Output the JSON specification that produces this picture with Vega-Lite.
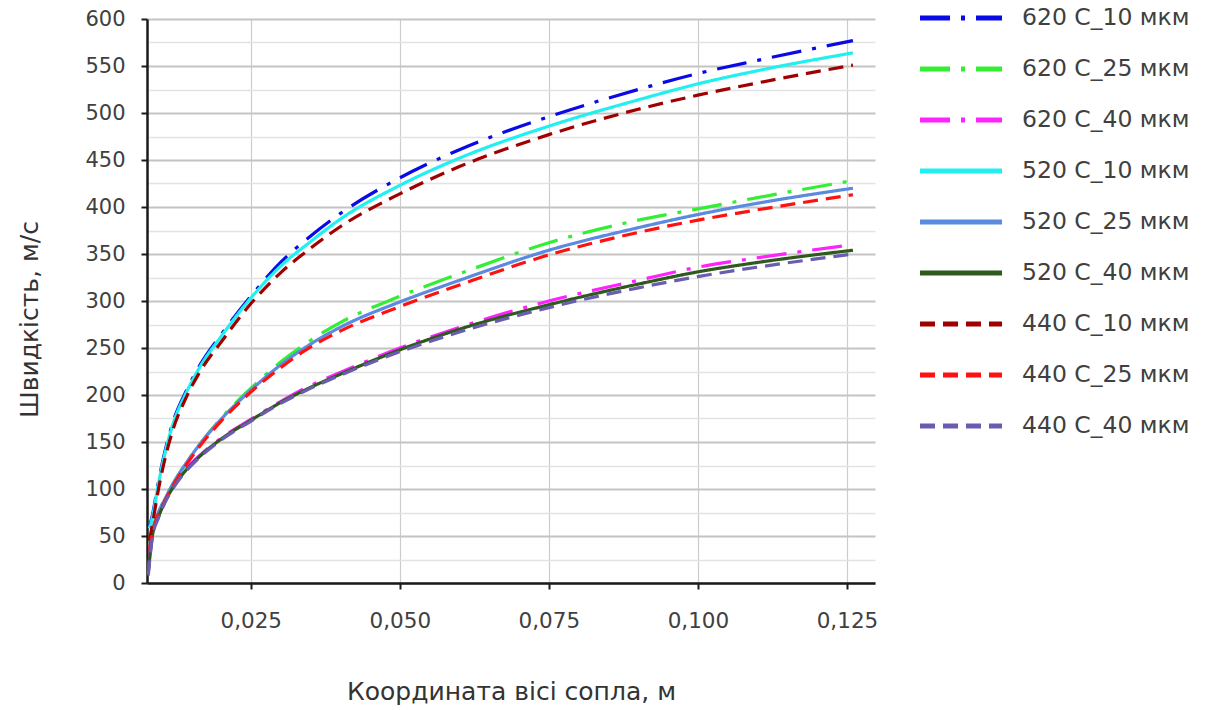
{
  "$schema": "https://vega.github.io/schema/vega-lite/v6.json",
  "width": 728,
  "height": 564,
  "autosize": {"type": "none"},
  "padding": {"left": 147, "top": 19, "right": 331, "bottom": 127},
  "background": "white",
  "config": {"view": {"stroke": null}, "font": "DejaVu Sans"},
  "datasets": {
    "d": [
      {"s":"620 C_10 мкм","x":0.008,"v":60},{"s":"620 C_10 мкм","x":0.0085,"v":72},{"s":"620 C_10 мкм","x":0.0095,"v":107},{"s":"620 C_10 мкм","x":0.0105,"v":137},{"s":"620 C_10 мкм","x":0.012,"v":172},{"s":"620 C_10 мкм","x":0.014,"v":202},{"s":"620 C_10 мкм","x":0.0165,"v":232},{"s":"620 C_10 мкм","x":0.02,"v":264},{"s":"620 C_10 мкм","x":0.025,"v":305},{"s":"620 C_10 мкм","x":0.03,"v":341},{"s":"620 C_10 мкм","x":0.035,"v":369},{"s":"620 C_10 мкм","x":0.04,"v":393},{"s":"620 C_10 мкм","x":0.05,"v":431},{"s":"620 C_10 мкм","x":0.06,"v":461},{"s":"620 C_10 мкм","x":0.075,"v":496},{"s":"620 C_10 мкм","x":0.09,"v":525},{"s":"620 C_10 мкм","x":0.1,"v":542},{"s":"620 C_10 мкм","x":0.11,"v":556},{"s":"620 C_10 мкм","x":0.126,"v":577},

      {"s":"620 C_25 мкм","x":0.008,"v":40},{"s":"620 C_25 мкм","x":0.0085,"v":56},{"s":"620 C_25 мкм","x":0.0095,"v":75},{"s":"620 C_25 мкм","x":0.0105,"v":88},{"s":"620 C_25 мкм","x":0.012,"v":106},{"s":"620 C_25 мкм","x":0.014,"v":126},{"s":"620 C_25 мкм","x":0.0165,"v":148},{"s":"620 C_25 мкм","x":0.02,"v":175},{"s":"620 C_25 мкм","x":0.025,"v":207},{"s":"620 C_25 мкм","x":0.03,"v":235},{"s":"620 C_25 мкм","x":0.035,"v":258},{"s":"620 C_25 мкм","x":0.04,"v":277},{"s":"620 C_25 мкм","x":0.05,"v":305},{"s":"620 C_25 мкм","x":0.06,"v":329},{"s":"620 C_25 мкм","x":0.075,"v":362},{"s":"620 C_25 мкм","x":0.09,"v":386},{"s":"620 C_25 мкм","x":0.1,"v":398},{"s":"620 C_25 мкм","x":0.11,"v":410},{"s":"620 C_25 мкм","x":0.125,"v":427},

      {"s":"620 C_40 мкм","x":0.0078,"v":12},{"s":"620 C_40 мкм","x":0.0085,"v":52},{"s":"620 C_40 мкм","x":0.0095,"v":71},{"s":"620 C_40 мкм","x":0.0105,"v":86},{"s":"620 C_40 мкм","x":0.012,"v":103},{"s":"620 C_40 мкм","x":0.014,"v":120},{"s":"620 C_40 мкм","x":0.0165,"v":136},{"s":"620 C_40 мкм","x":0.02,"v":154},{"s":"620 C_40 мкм","x":0.025,"v":174},{"s":"620 C_40 мкм","x":0.03,"v":193},{"s":"620 C_40 мкм","x":0.035,"v":210},{"s":"620 C_40 мкм","x":0.04,"v":224},{"s":"620 C_40 мкм","x":0.05,"v":250},{"s":"620 C_40 мкм","x":0.06,"v":272},{"s":"620 C_40 мкм","x":0.075,"v":300},{"s":"620 C_40 мкм","x":0.09,"v":322},{"s":"620 C_40 мкм","x":0.1,"v":336},{"s":"620 C_40 мкм","x":0.11,"v":346},{"s":"620 C_40 мкм","x":0.126,"v":360},

      {"s":"520 C_10 мкм","x":0.008,"v":58},{"s":"520 C_10 мкм","x":0.0085,"v":70},{"s":"520 C_10 мкм","x":0.0095,"v":105},{"s":"520 C_10 мкм","x":0.0105,"v":135},{"s":"520 C_10 мкм","x":0.012,"v":170},{"s":"520 C_10 мкм","x":0.014,"v":200},{"s":"520 C_10 мкм","x":0.0165,"v":230},{"s":"520 C_10 мкм","x":0.02,"v":262},{"s":"520 C_10 мкм","x":0.025,"v":303},{"s":"520 C_10 мкм","x":0.03,"v":337},{"s":"520 C_10 мкм","x":0.035,"v":363},{"s":"520 C_10 мкм","x":0.04,"v":387},{"s":"520 C_10 мкм","x":0.05,"v":423},{"s":"520 C_10 мкм","x":0.06,"v":452},{"s":"520 C_10 мкм","x":0.075,"v":486},{"s":"520 C_10 мкм","x":0.09,"v":514},{"s":"520 C_10 мкм","x":0.1,"v":531},{"s":"520 C_10 мкм","x":0.11,"v":545},{"s":"520 C_10 мкм","x":0.126,"v":564},

      {"s":"520 C_25 мкм","x":0.008,"v":38},{"s":"520 C_25 мкм","x":0.0085,"v":55},{"s":"520 C_25 мкм","x":0.0095,"v":75},{"s":"520 C_25 мкм","x":0.0105,"v":88},{"s":"520 C_25 мкм","x":0.012,"v":106},{"s":"520 C_25 мкм","x":0.014,"v":126},{"s":"520 C_25 мкм","x":0.0165,"v":148},{"s":"520 C_25 мкм","x":0.02,"v":174},{"s":"520 C_25 мкм","x":0.025,"v":205},{"s":"520 C_25 мкм","x":0.03,"v":232},{"s":"520 C_25 мкм","x":0.035,"v":254},{"s":"520 C_25 мкм","x":0.04,"v":272},{"s":"520 C_25 мкм","x":0.05,"v":299},{"s":"520 C_25 мкм","x":0.06,"v":322},{"s":"520 C_25 мкм","x":0.075,"v":354},{"s":"520 C_25 мкм","x":0.09,"v":378},{"s":"520 C_25 мкм","x":0.1,"v":392},{"s":"520 C_25 мкм","x":0.11,"v":404},{"s":"520 C_25 мкм","x":0.126,"v":420},

      {"s":"520 C_40 мкм","x":0.0078,"v":10},{"s":"520 C_40 мкм","x":0.0085,"v":50},{"s":"520 C_40 мкм","x":0.0095,"v":70},{"s":"520 C_40 мкм","x":0.0105,"v":85},{"s":"520 C_40 мкм","x":0.012,"v":102},{"s":"520 C_40 мкм","x":0.014,"v":119},{"s":"520 C_40 мкм","x":0.0165,"v":135},{"s":"520 C_40 мкм","x":0.02,"v":153},{"s":"520 C_40 мкм","x":0.025,"v":173},{"s":"520 C_40 мкм","x":0.03,"v":192},{"s":"520 C_40 мкм","x":0.035,"v":208},{"s":"520 C_40 мкм","x":0.04,"v":222},{"s":"520 C_40 мкм","x":0.05,"v":248},{"s":"520 C_40 мкм","x":0.06,"v":270},{"s":"520 C_40 мкм","x":0.075,"v":296},{"s":"520 C_40 мкм","x":0.09,"v":318},{"s":"520 C_40 мкм","x":0.1,"v":331},{"s":"520 C_40 мкм","x":0.11,"v":341},{"s":"520 C_40 мкм","x":0.126,"v":354},

      {"s":"440 C_10 мкм","x":0.008,"v":45},{"s":"440 C_10 мкм","x":0.0085,"v":62},{"s":"440 C_10 мкм","x":0.0095,"v":99},{"s":"440 C_10 мкм","x":0.0105,"v":129},{"s":"440 C_10 мкм","x":0.012,"v":164},{"s":"440 C_10 мкм","x":0.014,"v":195},{"s":"440 C_10 мкм","x":0.0165,"v":225},{"s":"440 C_10 мкм","x":0.02,"v":256},{"s":"440 C_10 мкм","x":0.025,"v":297},{"s":"440 C_10 мкм","x":0.03,"v":330},{"s":"440 C_10 мкм","x":0.035,"v":356},{"s":"440 C_10 мкм","x":0.04,"v":379},{"s":"440 C_10 мкм","x":0.05,"v":414},{"s":"440 C_10 мкм","x":0.06,"v":443},{"s":"440 C_10 мкм","x":0.075,"v":477},{"s":"440 C_10 мкм","x":0.09,"v":504},{"s":"440 C_10 мкм","x":0.1,"v":519},{"s":"440 C_10 мкм","x":0.11,"v":532},{"s":"440 C_10 мкм","x":0.126,"v":551},

      {"s":"440 C_25 мкм","x":0.008,"v":35},{"s":"440 C_25 мкм","x":0.0085,"v":53},{"s":"440 C_25 мкм","x":0.0095,"v":73},{"s":"440 C_25 мкм","x":0.0105,"v":86},{"s":"440 C_25 мкм","x":0.012,"v":104},{"s":"440 C_25 мкм","x":0.014,"v":124},{"s":"440 C_25 мкм","x":0.0165,"v":146},{"s":"440 C_25 мкм","x":0.02,"v":172},{"s":"440 C_25 мкм","x":0.025,"v":203},{"s":"440 C_25 мкм","x":0.03,"v":229},{"s":"440 C_25 мкм","x":0.035,"v":251},{"s":"440 C_25 мкм","x":0.04,"v":268},{"s":"440 C_25 мкм","x":0.05,"v":294},{"s":"440 C_25 мкм","x":0.06,"v":317},{"s":"440 C_25 мкм","x":0.075,"v":349},{"s":"440 C_25 мкм","x":0.09,"v":373},{"s":"440 C_25 мкм","x":0.1,"v":386},{"s":"440 C_25 мкм","x":0.11,"v":397},{"s":"440 C_25 мкм","x":0.126,"v":413},

      {"s":"440 C_40 мкм","x":0.0078,"v":8},{"s":"440 C_40 мкм","x":0.0085,"v":48},{"s":"440 C_40 мкм","x":0.0095,"v":69},{"s":"440 C_40 мкм","x":0.0105,"v":84},{"s":"440 C_40 мкм","x":0.012,"v":101},{"s":"440 C_40 мкм","x":0.014,"v":118},{"s":"440 C_40 мкм","x":0.0165,"v":134},{"s":"440 C_40 мкм","x":0.02,"v":152},{"s":"440 C_40 мкм","x":0.025,"v":172},{"s":"440 C_40 мкм","x":0.03,"v":191},{"s":"440 C_40 мкм","x":0.035,"v":207},{"s":"440 C_40 мкм","x":0.04,"v":221},{"s":"440 C_40 мкм","x":0.05,"v":246},{"s":"440 C_40 мкм","x":0.06,"v":267},{"s":"440 C_40 мкм","x":0.075,"v":293},{"s":"440 C_40 мкм","x":0.09,"v":314},{"s":"440 C_40 мкм","x":0.1,"v":326},{"s":"440 C_40 мкм","x":0.11,"v":336},{"s":"440 C_40 мкм","x":0.126,"v":350}
    ]
  },
  "data": {"name": "d"},
  "mark": {"type": "line", "strokeWidth": 3.2, "interpolate": "monotone", "clip": true},
  "encoding": {
    "x": {
      "field": "x", "type": "quantitative",
      "scale": {"domain": [0.0076, 0.1297], "nice": false, "zero": false},
      "axis": {
        "values": [0.025, 0.05, 0.075, 0.1, 0.125],
        "labelExpr": "replace(format(datum.value, '.3f'), '.', ',')",
        "title": "Координата вісі сопла, м",
        "titleFont": "DejaVu Sans", "titleFontSize": 25, "titleFontWeight": "normal", "titleColor": "#333333",
        "titleY": 116, "titleBaseline": "alphabetic",
        "labelFont": "DejaVu Sans", "labelFontSize": 21.5, "labelColor": "#404040", "labelPadding": 21,
        "domainColor": "#1a1a1a", "domainWidth": 2.5,
        "tickColor": "#1a1a1a", "tickWidth": 2, "tickSize": 6,
        "grid": true, "gridColor": "#cccccc", "gridWidth": 1.2
      }
    },
    "y": {
      "field": "v", "type": "quantitative",
      "scale": {"domain": [0, 600], "nice": false},
      "axis": {
        "values": [0,25,50,75,100,125,150,175,200,225,250,275,300,325,350,375,400,425,450,475,500,525,550,575,600],
        "labelExpr": "datum.value % 50 === 0 ? datum.label : ''",
        "title": "Швидкість, м/с",
        "titleFont": "DejaVu Sans", "titleFontSize": 25, "titleFontWeight": "normal", "titleColor": "#333333",
        "titleX": -110, "titleY": 300, "titleBaseline": "alphabetic", "titleAngle": -90,
        "labelFont": "DejaVu Sans", "labelFontSize": 21, "labelColor": "#404040", "labelPadding": 16,
        "domainColor": "#1a1a1a", "domainWidth": 2.5,
        "tickColor": "#1a1a1a", "tickWidth": 2, "tickSize": 6,
        "tickOpacity": {"condition": {"test": "datum.value % 50 === 0", "value": 1}, "value": 0},
        "grid": true,
        "gridColor": {"condition": {"test": "datum.value % 50 === 0", "value": "#c4c4c4"}, "value": "#e3e3e3"},
        "gridWidth": {"condition": {"test": "datum.value % 50 === 0", "value": 2}, "value": 1.5}
      }
    },
    "color": {
      "field": "s", "type": "nominal",
      "scale": {
        "domain": ["620 C_10 мкм","620 C_25 мкм","620 C_40 мкм","520 C_10 мкм","520 C_25 мкм","520 C_40 мкм","440 C_10 мкм","440 C_25 мкм","440 C_40 мкм"],
        "range": ["#0a0ae6","#33ee33","#ff22ff","#22f0f0","#5a8be0","#2e5a1e","#a00000","#ff1111","#6a5cb0"]
      },
      "legend": {
        "title": null, "orient": "none", "legendX": 775, "legendY": -40,
        "symbolType": "M-1.123,0H1.123", "symbolSize": 5329, "symbolStrokeWidth": 5,
        "labelFont": "DejaVu Sans", "labelFontSize": 23.5, "labelColor": "#404040",
        "rowPadding": 0, "labelOffset": 22, "padding": 0, "labelLimit": 300
      }
    },
    "strokeDash": {
      "field": "s", "type": "nominal",
      "scale": {
        "domain": ["620 C_10 мкм","620 C_25 мкм","620 C_40 мкм","520 C_10 мкм","520 C_25 мкм","520 C_40 мкм","440 C_10 мкм","440 C_25 мкм","440 C_40 мкм"],
        "range": [[30,11,4,11],[30,11,4,11],[30,11,4,11],[1,0],[1,0],[1,0],[15,8],[15,8],[15,8]]
      },
      "legend": {
        "title": null, "orient": "none", "legendX": 775, "legendY": -40,
        "symbolType": "M-1.123,0H1.123", "symbolSize": 5329, "symbolStrokeWidth": 5,
        "labelFont": "DejaVu Sans", "labelFontSize": 23.5, "labelColor": "#404040",
        "rowPadding": 0, "labelOffset": 22, "padding": 0, "labelLimit": 300
      }
    }
  }
}
